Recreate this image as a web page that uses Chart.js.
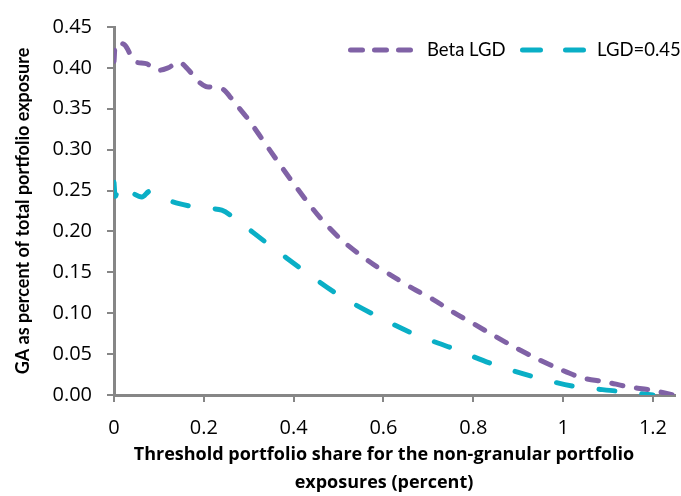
<!DOCTYPE html>
<html>
<head>
<meta charset="utf-8">
<script src="https://cdn.jsdelivr.net/npm/chart.js@4.4.1/dist/chart.umd.min.js"></script>
<style>
  html, body { margin: 0; padding: 0; background: #fff; }
  #wrap { width: 681px; height: 496px; }
</style>
</head>
<body>
<div id="wrap"><canvas id="chart"></canvas></div>
<script>
const seriesLabels = ['Beta LGD', 'LGD=0.45'];

const betaX = [0, 0.005, 0.024, 0.046, 0.073, 0.095, 0.120, 0.145, 0.165, 0.185, 0.205, 0.225, 0.245, 0.265, 0.299, 0.350,
  0.402, 0.457, 0.508, 0.574, 0.618, 0.666, 0.710, 0.756, 0.804, 0.848, 0.897, 0.943, 0.991, 1.042, 1.095, 1.145, 1.196, 1.246];
const betaY = [0.408, 0.430, 0.428, 0.408, 0.405, 0.397, 0.400, 0.407, 0.398, 0.385, 0.377, 0.377, 0.373, 0.360, 0.337, 0.297,
  0.257, 0.218, 0.189, 0.161, 0.146, 0.130, 0.117, 0.101, 0.086, 0.072, 0.057, 0.044, 0.032, 0.021, 0.016, 0.010, 0.006, 0.000];

const lgdX = [0, 0.003, 0.010, 0.018, 0.028, 0.062, 0.079, 0.101, 0.145, 0.189, 0.240, 0.273, 0.347, 0.420,
  0.501, 0.580, 0.666, 0.754, 0.842, 0.930, 1.020, 1.116, 1.200];
const lgdY = [0.260, 0.243, 0.252, 0.246, 0.250, 0.242, 0.249, 0.242, 0.234, 0.229, 0.226, 0.214, 0.183, 0.153,
  0.122, 0.098, 0.075, 0.057, 0.038, 0.023, 0.011, 0.005, 0.000];

const xTicks = [0, 0.2, 0.4, 0.6, 0.8, 1, 1.2];
const yTicks = [0, 0.05, 0.10, 0.15, 0.20, 0.25, 0.30, 0.35, 0.40, 0.45];

const xTitle = ['Threshold portfolio share for the non-granular portfolio', 'exposures (percent)'];
const yTitle = 'GA as percent of total portfolio exposure';

const axisColor = '#868686';

function toPoints(xs, ys) {
  return xs.map((x, i) => ({ x: x, y: ys[i] }));
}

// legend drawn by hand so the dashed samples look like the lines
const lineLegend = {
  id: 'lineLegend',
  afterDatasetsDraw(chart) {
    const ctx = chart.ctx;
    const spots = [{ x: 350.5, w: 60, tx: 427 }, { x: 522.5, w: 61, tx: 597 }];
    const y = 50;
    chart.data.datasets.forEach((ds, i) => {
      const s = spots[i];
      ctx.save();
      ctx.strokeStyle = ds.borderColor;
      ctx.lineWidth = ds.borderWidth;
      ctx.lineCap = 'round';
      ctx.setLineDash(ds.legendDash);
      ctx.beginPath();
      ctx.moveTo(s.x, y);
      ctx.lineTo(s.x + s.w, y);
      ctx.stroke();
      ctx.setLineDash([]);
      ctx.fillStyle = '#000';
      ctx.font = '18.5px Lato';
      ctx.textBaseline = 'middle';
      ctx.fillText(ds.label, s.tx, y);
      ctx.restore();
    });
  }
};

// x title sits a bit left of the plot centre in the original, so draw it here
const xAxisTitle = {
  id: 'xAxisTitle',
  afterDraw(chart) {
    const ctx = chart.ctx;
    ctx.save();
    ctx.fillStyle = '#000';
    ctx.font = 'bold 18px "Open Sans"';
    ctx.textAlign = 'center';
    ctx.textBaseline = 'middle';
    xTitle.forEach((line, i) => {
      ctx.fillText(line, 384, 455 + i * 28);
    });
    ctx.restore();
  }
};

Chart.defaults.font.family = 'Lato';
Chart.defaults.color = '#000';

new Chart(document.getElementById('chart'), {
  type: 'scatter',
  data: {
    datasets: [
      {
        label: seriesLabels[0],
        data: toPoints(betaX, betaY),
        showLine: true,
        borderColor: '#8062A6',
        backgroundColor: '#8062A6',
        borderWidth: 5,
        borderDash: [11, 14],
        legendDash: [12, 12],
        borderCapStyle: 'round',
        pointRadius: 0,
        tension: 0.3
      },
      {
        label: seriesLabels[1],
        data: toPoints(lgdX, lgdY),
        showLine: true,
        borderColor: '#0AAFC6',
        backgroundColor: '#0AAFC6',
        borderWidth: 5,
        borderDash: [16, 27],
        legendDash: [18, 25],
        borderCapStyle: 'round',
        pointRadius: 0,
        tension: 0.3
      }
    ]
  },
  options: {
    responsive: true,
    maintainAspectRatio: false,
    animation: false,
    layout: { autoPadding: false, padding: { top: 18, right: 0, bottom: 0, left: 0 } },
    plugins: {
      legend: { display: false },
      tooltip: { enabled: false }
    },
    scales: {
      x: {
        type: 'linear',
        min: 0,
        max: 1.25,
        afterBuildTicks: (scale) => { scale.ticks = xTicks.map(v => ({ value: v })); },
        afterFit: (scale) => { scale.height = 101; },
        ticks: {
          font: { family: 'Open Sans', size: 20 },
          padding: 14,
          maxRotation: 0,
          callback: (v) => String(v)
        },
        grid: { drawOnChartArea: false, drawTicks: true, tickLength: 7, color: axisColor, lineWidth: 2 },
        border: { display: true, color: axisColor, width: 3 },
        title: { display: false }
      },
      y: {
        type: 'linear',
        min: 0,
        max: 0.45,
        afterBuildTicks: (scale) => { scale.ticks = yTicks.map(v => ({ value: v })); },
        afterFit: (scale) => { scale.width = 114; },
        ticks: {
          font: { family: 'Open Sans', size: 20 },
          padding: 15,
          callback: (v) => Number(v).toFixed(2)
        },
        grid: { drawOnChartArea: false, drawTicks: true, tickLength: 7, color: axisColor, lineWidth: 2 },
        border: { display: true, color: axisColor, width: 3 },
        title: {
          display: true,
          text: yTitle,
          font: { size: 18, weight: 'bold' },
          padding: { top: 12, bottom: 0 }
        }
      }
    }
  },
  plugins: [lineLegend, xAxisTitle]
});
</script>
</body>
</html>
